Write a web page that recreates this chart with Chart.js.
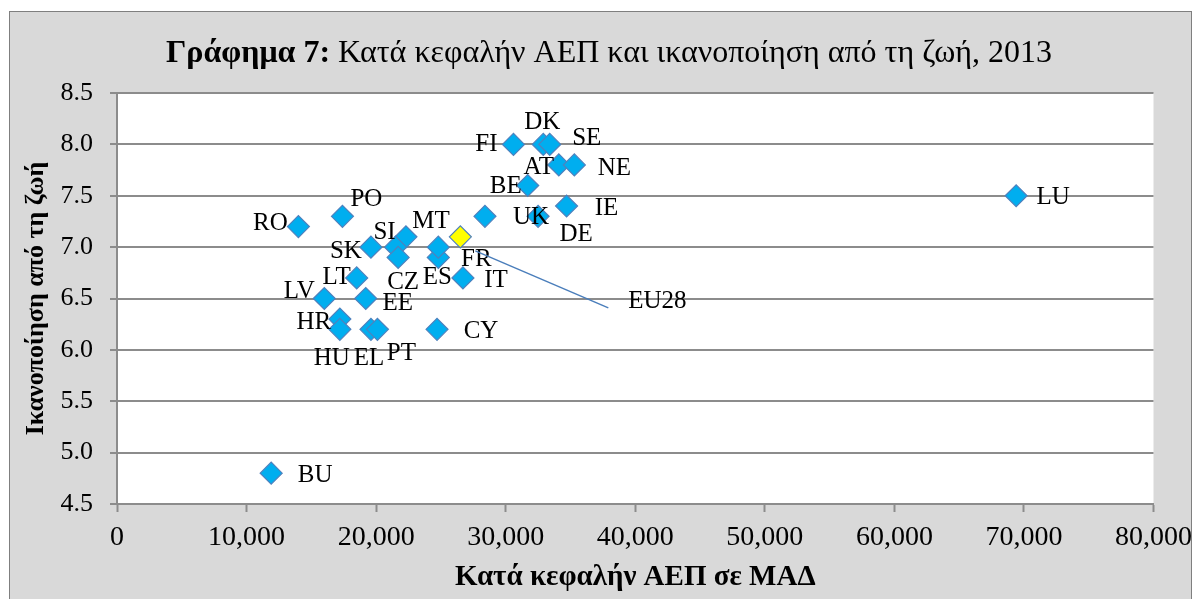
<!DOCTYPE html>
<html>
<head>
<meta charset="utf-8">
<script src="https://cdn.jsdelivr.net/npm/chart.js@4"></script>
<style>
  body { margin: 0; background: #ffffff; }
  #wrap { width: 1201px; height: 599px; position: relative; }
</style>
</head>
<body>
<div id="wrap"><canvas id="chart"></canvas></div>
<script>
// GDP per capita (PPS) vs life satisfaction, 2013
const countries = ["FI", "DK", "SE", "AT", "NE", "BE", "IE", "UK", "DE", "RO",
  "PO", "MT", "SI", "SK", "CZ", "ES", "FR", "IT", "LT", "LV",
  "EE", "HR", "HU", "EL", "PT", "CY", "BU", "LU"];

const gdpPps = [30600, 32900, 33400, 34100, 35300, 31700, 34700, 28400, 32500, 14000,
  17400, 22300, 21500, 19600, 21700, 24800, 24800, 26700, 18500, 16000,
  19200, 17200, 17200, 19600, 20100, 24700, 11900, 69400];

const lifeSatisfaction = [8.0, 8.0, 8.0, 7.8, 7.8, 7.6, 7.4, 7.3, 7.3, 7.2,
  7.3, 7.1, 7.0, 7.0, 6.9, 6.9, 7.0, 6.7, 6.7, 6.5,
  6.5, 6.3, 6.2, 6.2, 6.2, 6.2, 4.8, 7.5];

const euLabel = ["EU28"];
const euGdp = [26500];
const euSatisfaction = [7.1];

// where each label sits relative to its marker (px)
const labelOffsets = {
  FI: [-27, 0], DK: [-1, -22], SE: [37, -6], AT: [-20, 3], NE: [40, 4],
  BE: [-22, 1], IE: [40, 2], UK: [46, 1], DE: [38, 18], RO: [-28, -3],
  PO: [24, -17], MT: [25, -15], SI: [-11, -15], SK: [-25, 4], CZ: [5, 25],
  ES: [-1, 20], FR: [38, 12], IT: [33, 2], LT: [-20, -1], LV: [-25, -7],
  EE: [32, 5], HR: [-26, 3], HU: [-8, 29], EL: [-2, 29], PT: [24, 24],
  CY: [44, 2], BU: [44, 2], LU: [37, 2], EU28: [197, 65]
};

const serif = "'Liberation Serif', 'Times New Roman', serif";
const gridGrey = "#8c8c8c";

const framePlugin = {
  id: "frame",
  beforeDraw(chart) {
    const ctx = chart.ctx;
    const a = chart.chartArea;
    ctx.save();
    ctx.fillStyle = "#ffffff";
    ctx.fillRect(0, 0, chart.width, chart.height);
    ctx.fillStyle = "#d9d9d9";
    ctx.fillRect(9, 11, 1183, 600);
    ctx.strokeStyle = "#7f7f7f";
    ctx.lineWidth = 1;
    ctx.strokeRect(9.5, 11.5, 1182, 600);
    ctx.fillStyle = "#ffffff";
    ctx.fillRect(a.left, a.top, a.right - a.left, a.bottom - a.top);
    ctx.restore();
  }
};

const titlePlugin = {
  id: "mixedTitle",
  afterDraw(chart) {
    const ctx = chart.ctx;
    const boldPart = "Γράφημα 7:";
    const restPart = " Κατά κεφαλήν ΑΕΠ και ικανοποίηση από τη ζωή, 2013";
    ctx.save();
    ctx.fillStyle = "#000";
    ctx.textBaseline = "middle";
    ctx.textAlign = "left";
    ctx.font = "bold 31px " + serif;
    const w1 = ctx.measureText(boldPart).width;
    ctx.font = "31px " + serif;
    const w2 = ctx.measureText(restPart).width;
    // the original title is a little wider than the font gives
    const sx = 886 / (w1 + w2);
    ctx.translate(166, 54);
    ctx.scale(sx, 1);
    ctx.font = "bold 31px " + serif;
    ctx.fillText(boldPart, 0, 0);
    ctx.font = "31px " + serif;
    ctx.fillText(restPart, w1, 0);
    ctx.restore();
  }
};

const labelPlugin = {
  id: "pointLabels",
  afterDatasetsDraw(chart) {
    const ctx = chart.ctx;
    ctx.save();
    ctx.font = "25px " + serif;
    ctx.fillStyle = "#000";
    ctx.textAlign = "center";
    ctx.textBaseline = "middle";
    chart.data.datasets.forEach((ds, i) => {
      const meta = chart.getDatasetMeta(i);
      meta.data.forEach((pt, j) => {
        const name = ds.names[j];
        const off = labelOffsets[name] || [30, 0];
        if (name === "EU28") {
          ctx.strokeStyle = "#4a7ebb";
          ctx.lineWidth = 1.5;
          ctx.beginPath();
          ctx.moveTo(pt.x + 15, pt.y + 14);
          ctx.lineTo(pt.x + 148, pt.y + 71);
          ctx.stroke();
        }
        ctx.fillText(name, pt.x + off[0], pt.y + off[1]);
      });
    });
    ctx.restore();
  }
};

new Chart(document.getElementById("chart"), {
  type: "scatter",
  data: {
    datasets: [
      {
        names: countries,
        data: countries.map((c, i) => ({ x: gdpPps[i], y: lifeSatisfaction[i] })),
        pointStyle: "rectRot",
        pointRadius: 11,
        pointHoverRadius: 11,
        backgroundColor: "#00aeef",
        borderColor: "#4f81bd",
        borderWidth: 1.2
      },
      {
        names: euLabel,
        data: euLabel.map((c, i) => ({ x: euGdp[i], y: euSatisfaction[i] })),
        pointStyle: "rectRot",
        pointRadius: 11,
        pointHoverRadius: 11,
        backgroundColor: "#ffff00",
        borderColor: "#4f81bd",
        borderWidth: 1.2
      }
    ]
  },
  options: {
    responsive: true,
    maintainAspectRatio: false,
    animation: false,
    layout: { padding: { left: 0, top: 93, right: 43, bottom: 0 } },
    plugins: {
      legend: { display: false },
      tooltip: { enabled: false },
      title: { display: false }
    },
    scales: {
      x: {
        type: "linear",
        min: 0,
        max: 80000,
        afterFit(scale) { scale.height = 95; },
        border: { display: true, color: gridGrey, width: 2 },
        grid: { drawOnChartArea: false, drawTicks: true, tickLength: 8, tickColor: gridGrey, tickWidth: 2 },
        ticks: {
          stepSize: 10000,
          padding: 9,
          color: "#000",
          font: { family: serif, size: 28 },
          maxRotation: 0,
          callback: v => v.toLocaleString("en-US")
        },
        title: {
          display: true,
          text: "Κατά κεφαλήν ΑΕΠ σε ΜΑΔ",
          color: "#000",
          font: { family: serif, size: 29, weight: "bold" },
          padding: { top: 0, bottom: 4 }
        }
      },
      y: {
        type: "linear",
        min: 4.5,
        max: 8.5,
        afterFit(scale) { scale.width = 117; },
        border: { display: true, color: gridGrey, width: 2 },
        grid: { color: gridGrey, lineWidth: 2, drawTicks: true, tickLength: 7, tickColor: gridGrey, tickWidth: 2 },
        ticks: {
          stepSize: 0.5,
          padding: 17,
          color: "#000",
          font: { family: serif, size: 26 },
          callback: v => v.toFixed(1)
        },
        title: {
          display: true,
          text: "Ικανοποίηση από τη ζωή",
          color: "#000",
          font: { family: serif, size: 26, weight: "bold" },
          padding: { top: 21, bottom: 0 }
        }
      }
    }
  },
  plugins: [framePlugin, labelPlugin, titlePlugin]
});
</script>
</body>
</html>
